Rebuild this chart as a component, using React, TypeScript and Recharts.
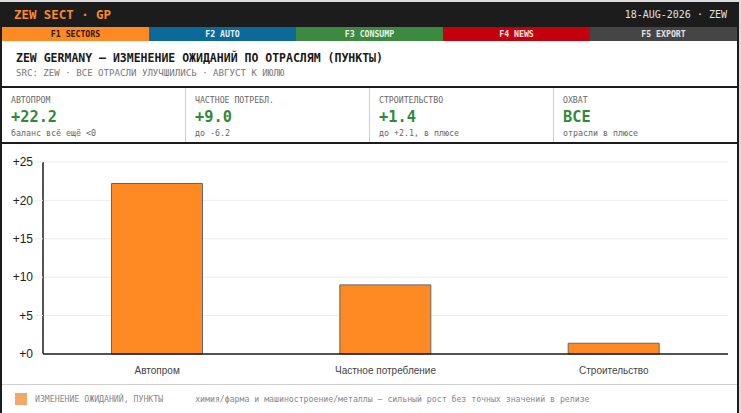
import { BarChart, Bar, XAxis, YAxis, CartesianGrid } from "recharts"

// values (points, Aug vs Jul)
const sectors = ["Автопром", "Частное потребление", "Строительство"]
const changes = [22.2, 9.0, 1.4]
const yTicks = [0, 5, 10, 15, 20, 25]

const tabs = [
  { label: "F1 SECTORS", bg: "#ff8a24", fg: "#2a1a08" },
  { label: "F2 AUTO", bg: "#0b6a99", fg: "#e8f0f4" },
  { label: "F3 CONSUMP", bg: "#3b8a3f", fg: "#e8f3e8" },
  { label: "F4 NEWS", bg: "#c4000c", fg: "#fbe6e6" },
  { label: "F5 EXPORT", bg: "#454545", fg: "#e6e6e6" },
]

const kpiLabels = ["АВТОПРОМ", "ЧАСТНОЕ ПОТРЕБЛ.", "СТРОИТЕЛЬСТВО", "ОХВАТ"]
const kpiValues = ["+22.2", "+9.0", "+1.4", "ВСЕ"]
const kpiNotes = ["баланс всё ещё <0", "до -6.2", "до +2.1, в плюсе", "отрасли в плюсе"]

const data = sectors.map((name, i) => ({ name, value: changes[i] }))

const MONO = "'DejaVu Sans Mono', monospace"
const SANS = "'Liberation Sans', Arial, sans-serif"
const ORANGE = "#ff8a24"

export default function App() {
  return (
    <div style={{ width: 741, height: 413, background: "#dcdcdc", paddingTop: 2, boxSizing: "border-box", overflow: "hidden" }}>
      <style>{`body{margin:0}`}</style>
      <div
        style={{
          width: 739,
          height: 420,
          borderLeft: "2px solid #1c1c1c",
          borderRight: "2px solid #1c1c1c",
          boxSizing: "border-box",
          background: "#fff",
          fontFamily: MONO,
        }}
      >
        {/* top bar */}
        <div
          style={{
            height: 25,
            background: "#1c1c1c",
            display: "flex",
            alignItems: "center",
            justifyContent: "space-between",
            padding: "0 10px 0 12px",
          }}
        >
          <span style={{ color: ORANGE, fontWeight: "bold", fontSize: 12.4 }}>ZEW SECT · GP</span>
          <span style={{ color: "#e0e0e0", fontSize: 10 }}>18-AUG-2026 · ZEW</span>
        </div>

        {/* tabs */}
        <div style={{ display: "flex", height: 14 }}>
          {tabs.map((t) => (
            <div
              key={t.label}
              style={{
                flex: 1,
                background: t.bg,
                color: t.fg,
                fontSize: 8.2,
                fontWeight: "bold",
                textAlign: "center",
                lineHeight: "14px",
              }}
            >
              {t.label}
            </div>
          ))}
        </div>

        {/* title */}
        <div style={{ height: 47, padding: "10px 0 0 14px", boxSizing: "border-box", borderBottom: "2px solid #1c1c1c" }}>
          <div style={{ fontSize: 11.5, fontWeight: "bold", color: "#1a1a1a", lineHeight: "14px" }}>
            ZEW GERMANY — ИЗМЕНЕНИЕ ОЖИДАНИЙ ПО ОТРАСЛЯМ (ПУНКТЫ)
          </div>
          <div style={{ fontSize: 9.1, color: "#777", lineHeight: "14px", marginTop: 1 }}>
            SRC: ZEW · ВСЕ ОТРАСЛИ УЛУЧШИЛИСЬ · АВГУСТ К ИЮЛЮ
          </div>
        </div>

        {/* kpis */}
        <div style={{ display: "flex", height: 56, borderBottom: "2px solid #1c1c1c", boxSizing: "border-box" }}>
          {kpiLabels.map((lab, i) => (
            <div
              key={lab}
              style={{
                flex: 1,
                padding: "7px 0 0 9px",
                borderLeft: i ? "1px solid #cfcfcf" : "none",
              }}
            >
              <div style={{ fontSize: 8.2, color: "#666", lineHeight: "11px" }}>{lab}</div>
              <div style={{ fontSize: 15.3, fontWeight: "bold", color: "#2f8a38", lineHeight: "22px" }}>{kpiValues[i]}</div>
              <div style={{ fontSize: 8.3, color: "#666", lineHeight: "11px" }}>{kpiNotes[i]}</div>
            </div>
          ))}
        </div>

        {/* chart */}
        <BarChart
          width={735}
          height={240}
          data={data}
          margin={{ top: 18, right: 9, bottom: 0, left: 0 }}
          barCategoryGap="30%"
        >
          <CartesianGrid vertical={false} stroke="#ececec" />
          <XAxis
            dataKey="name"
            axisLine={{ stroke: "#1c1c1c", strokeWidth: 1.5 }}
            tickLine={false}
            height={30}
            tickMargin={7}
            tick={{ fontSize: 10, fill: "#444", fontFamily: SANS }}
          />
          <YAxis
            domain={[0, 25]}
            ticks={yTicks}
            interval={0}
            width={41}
            axisLine={{ stroke: "#1c1c1c", strokeWidth: 1.5 }}
            tickLine={{ stroke: "#ececec" }}
            tickSize={8}
            tickMargin={2}
            tickFormatter={(v) => `+${v}`}
            tick={{ fontSize: 12, fill: "#222", fontFamily: SANS }}
          />
          <Bar dataKey="value" fill="#ff8a24" stroke="#666" strokeWidth={1} isAnimationActive={false} />
        </BarChart>

        {/* footer */}
        <div
          style={{
            borderTop: "1.5px solid #cfcfcf",
            height: 28,
            display: "flex",
            alignItems: "center",
            padding: "0 0 0 13px",
            fontSize: 8.2,
            color: "#888",
          }}
        >
          <span style={{ width: 12, height: 12, background: "#f2a866", display: "inline-block", marginRight: 8 }} />
          <span style={{ marginRight: 32 }}>ИЗМЕНЕНИЕ ОЖИДАНИЙ, ПУНКТЫ</span>
          <span>химия/фарма и машиностроение/металлы — сильный рост без точных значений в релизе</span>
        </div>
      </div>
    </div>
  )
}
